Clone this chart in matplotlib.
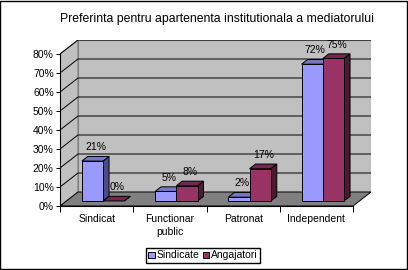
import matplotlib
matplotlib.use("Agg")
import matplotlib.pyplot as plt
from matplotlib.patches import Polygon, Rectangle, Patch

plt.rcParams["font.family"] = ["Liberation Sans", "DejaVu Sans"]

categories = ["Sindicat", "Functionar\npublic", "Patronat", "Independent"]
series_names = ["Sindicate", "Angajatori"]
sindicate = [21, 5, 2, 72]
angajatori = [0, 8, 17, 75]
yticks = [0, 10, 20, 30, 40, 50, 60, 70, 80]

front_colors = ["#9999FF", "#993366"]
side_colors = ["#4D4D85", "#4D1A33"]
top_colors = ["#7777C6", "#73264F"]

# oblique depth of the 3d box, in data units
DX = 0.2455
DY = 7.37
F0 = 0.36   # where the bars start in depth
FD = 0.33   # bar depth
BW = 0.29   # bar width in category units

fig = plt.figure(figsize=(4.08, 2.70), dpi=100)
fig.patches.append(Rectangle((0.0012, 0.002), 0.997, 0.995, transform=fig.transFigure,
                             fill=False, edgecolor="black", linewidth=1.0))

ax = fig.add_axes([60 / 408, 1 - 206 / 270, 311 / 408, 166 / 270])
n = len(categories)
ymax = yticks[-1]
ax.set_xlim(0, n + DX)
ax.set_ylim(0, ymax + DY)
ax.patch.set_visible(False)

wall = "#C0C0C0"
edge = "#808080"
ax.add_patch(Polygon([(0, 0), (DX, DY), (DX, ymax + DY), (0, ymax)],
                     facecolor=wall, edgecolor=edge, linewidth=0.8, zorder=1))
ax.add_patch(Polygon([(DX, DY), (n + DX, DY), (n + DX, ymax + DY), (DX, ymax + DY)],
                     facecolor=wall, edgecolor=edge, linewidth=0.8, zorder=1))
ax.add_patch(Polygon([(0, 0), (n, 0), (n + DX, DY), (DX, DY)],
                     facecolor="#808080", edgecolor="black", linewidth=0.7, zorder=2))
for v in yticks[1:]:
    ax.plot([0, DX, n + DX], [v, v + DY, v + DY], color="black", linewidth=0.7, zorder=1.5)

ox, oy = F0 * DX, F0 * DY
bx, by = FD * DX, FD * DY
for j, vals in enumerate([sindicate, angajatori]):
    for i, v in enumerate(vals):
        x0 = i + 0.5 - BW + j * BW + ox
        x1 = x0 + BW
        kw = dict(edgecolor="black", linewidth=0.7, zorder=3 + j)
        ax.add_patch(Polygon([(x1, oy), (x1 + bx, oy + by), (x1 + bx, oy + by + v), (x1, oy + v)],
                             facecolor=side_colors[j], **kw))
        ax.add_patch(Polygon([(x0, oy + v), (x1, oy + v), (x1 + bx, oy + v + by), (x0 + bx, oy + v + by)],
                             facecolor=top_colors[j], **kw))
        if v > 0:
            ax.add_patch(Rectangle((x0, oy), BW, v, facecolor=front_colors[j], **kw))
        ax.text(x0 + BW / 2 + bx / 2, oy + v + by + 4.8, f"{v}%", ha="center", va="center",
                fontsize=7.5, zorder=10)

for side in ["top", "right"]:
    ax.spines[side].set_visible(False)
ax.spines["left"].set_bounds(0, ymax)
ax.spines["bottom"].set_bounds(0, n)
ax.spines["left"].set_zorder(5)
ax.spines["bottom"].set_zorder(5)
ax.set_yticks(yticks)
ax.set_yticklabels([f"{v}%" for v in yticks], fontsize=7.5)
ax.tick_params(axis="y", length=3, width=0.7, pad=1.5)
ax.set_xticks(range(n + 1))
ax.set_xticklabels([])
ax.set_xticks([i + 0.5 for i in range(n)], minor=True)
ax.set_xticklabels(categories, minor=True, fontsize=7.5, linespacing=1.35)
ax.tick_params(axis="x", which="major", length=4, width=0.7)
ax.tick_params(axis="x", which="minor", length=0, pad=6)

fig.text(216.5 / 408, 1 - 19 / 270, "Preferinta pentru apartenenta institutionala a mediatorului",
         ha="center", va="center", fontsize=8.8)

handles = [Patch(facecolor=front_colors[k], edgecolor="black", linewidth=0.7, label=series_names[k])
           for k in range(2)]
fig.legend(handles=handles, loc="center", bbox_to_anchor=(203 / 408, 1 - 255.5 / 270), ncol=2,
           fontsize=7.5, frameon=True, fancybox=False, edgecolor="black", framealpha=1,
           handlelength=0.6, handleheight=0.6, handletextpad=0.2, columnspacing=0.3,
           borderpad=0.25, borderaxespad=0)
fig.legend_ = None

fig.savefig("out.png", dpi=100)
